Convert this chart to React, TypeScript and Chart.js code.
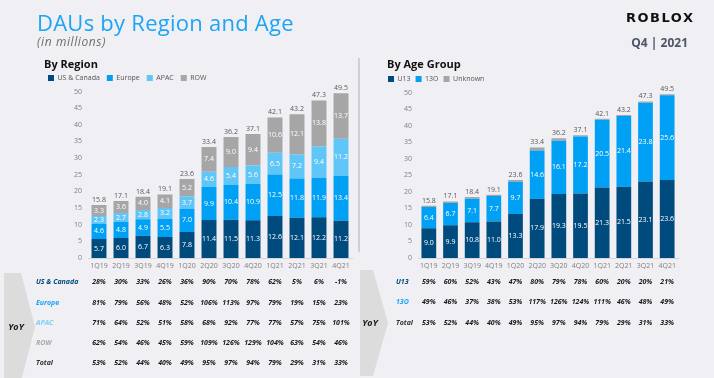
import React, { useEffect, useRef } from "react";
import { Chart, registerables } from "chart.js";
Chart.register(...registerables);

const quarters = ["1Q19", "2Q19", "3Q19", "4Q19", "1Q20", "2Q20", "3Q20", "4Q20", "1Q21", "2Q21", "3Q21", "4Q21"];

const usCanada = [5.7, 6.0, 6.7, 6.3, 7.8, 11.4, 11.5, 11.3, 12.6, 12.1, 12.2, 11.2];
const europe = [4.6, 4.8, 4.9, 5.5, 7.0, 9.9, 10.4, 10.9, 12.5, 11.8, 11.9, 13.4];
const apac = [2.3, 2.7, 2.8, 3.2, 3.7, 4.6, 5.4, 5.6, 6.5, 7.2, 9.4, 11.2];
const restOfWorld = [3.3, 3.6, 4.0, 4.1, 5.2, 7.4, 9.0, 9.4, 10.6, 12.1, 13.8, 13.7];
const regionTotals = [15.8, 17.1, 18.4, 19.1, 23.6, 33.4, 36.2, 37.1, 42.1, 43.2, 47.3, 49.5];

const under13 = [9.0, 9.9, 10.8, 11.0, 13.3, 17.9, 19.3, 19.5, 21.3, 21.5, 23.1, 23.6];
const over13 = [6.4, 6.7, 7.1, 7.7, 9.7, 14.6, 16.1, 17.2, 20.5, 21.4, 23.8, 25.6];
const unknownAge = [0.4, 0.5, 0.5, 0.4, 0.6, 0.9, 0.8, 0.4, 0.3, 0.3, 0.4, 0.3];
const ageTotals = [15.8, 17.1, 18.4, 19.1, 23.6, 33.4, 36.2, 37.1, 42.1, 43.2, 47.3, 49.5];

const yoyUsCanada = ["28%", "30%", "33%", "26%", "36%", "90%", "70%", "78%", "62%", "5%", "6%", "-1%"];
const yoyEurope = ["81%", "79%", "56%", "48%", "52%", "106%", "113%", "97%", "79%", "19%", "15%", "23%"];
const yoyApac = ["71%", "64%", "52%", "51%", "58%", "68%", "92%", "77%", "77%", "57%", "75%", "101%"];
const yoyRow = ["62%", "54%", "46%", "45%", "59%", "109%", "126%", "129%", "104%", "63%", "54%", "46%"];
const yoyRegionTotal = ["53%", "52%", "44%", "40%", "49%", "95%", "97%", "94%", "79%", "29%", "31%", "33%"];

const yoyUnder13 = ["59%", "60%", "52%", "43%", "47%", "80%", "79%", "78%", "60%", "20%", "20%", "21%"];
const yoyOver13 = ["49%", "46%", "37%", "38%", "53%", "117%", "126%", "124%", "111%", "46%", "48%", "49%"];
const yoyAgeTotal = ["53%", "52%", "44%", "40%", "49%", "95%", "97%", "94%", "79%", "29%", "31%", "33%"];

const FONT = "'Open Sans', 'Noto Sans', sans-serif";
const NAVY = "#004b7d";
const BLUE = "#00a0f5";
const LIGHT = "#5fc6f7";
const GRAY = "#a6a6a6";
const BG = "#efeff4";

function barLabelPlugin(labelled: number[], totals: number[]) {
  return {
    id: "barLabels",
    afterDatasetsDraw(chart: any) {
      const ctx = chart.ctx;
      ctx.save();
      ctx.font = `7px ${FONT}`;
      ctx.textAlign = "center";
      ctx.textBaseline = "middle";
      labelled.forEach((di) => {
        const meta = chart.getDatasetMeta(di);
        const data = chart.data.datasets[di].data;
        meta.data.forEach((el: any, i: number) => {
          const p = el.getProps(["x", "y", "base"], true);
          ctx.fillStyle = "#ffffff";
          ctx.fillText(Number(data[i]).toFixed(1), p.x, (p.y + p.base) / 2);
        });
      });
      const top = chart.getDatasetMeta(chart.data.datasets.length - 1);
      top.data.forEach((el: any, i: number) => {
        ctx.fillStyle = "#595959";
        ctx.fillText(totals[i].toFixed(1), el.x, el.y - 5);
      });
      ctx.restore();
    },
  };
}

type Row = { label: string; color: string; y: number; values: string[] };

function tablePlugin(rows: Row[], labelX: number, arrow: number[][], yoyPos: number[]) {
  return {
    id: "yoyTable",
    afterDraw(chart: any) {
      const ctx = chart.ctx;
      const xs = chart.scales.x;
      ctx.save();
      ctx.fillStyle = "#dcdcdc";
      ctx.beginPath();
      arrow.forEach(([x, y], i) => (i ? ctx.lineTo(x, y) : ctx.moveTo(x, y)));
      ctx.closePath();
      ctx.fill();
      ctx.font = `italic 700 9px ${FONT}`;
      ctx.fillStyle = "#1a1a1a";
      ctx.textAlign = "center";
      ctx.textBaseline = "middle";
      ctx.fillText("YoY", yoyPos[0], yoyPos[1]);
      rows.forEach((r) => {
        ctx.font = `italic 700 7px ${FONT}`;
        ctx.textAlign = "left";
        ctx.fillStyle = r.color;
        ctx.fillText(r.label, labelX, r.y);
        ctx.fillStyle = "#1a1a1a";
        ctx.textAlign = "center";
        r.values.forEach((v, i) => ctx.fillText(v, xs.getPixelForValue(i), r.y));
      });
      ctx.restore();
    },
  };
}

function baseOptions(padTop: number, padLeft: number, padRight: number, legendPad: number, legendMax: number, yWidth: number) {
  const tickFont = { size: 7, family: FONT };
  return {
    responsive: false,
    animation: false as const,
    layout: { padding: { top: padTop, left: padLeft, right: padRight, bottom: 100 } },
    datasets: { bar: { barPercentage: 0.68, categoryPercentage: 1 } },
    plugins: {
      legend: {
        display: true,
        position: "top" as const,
        align: "start" as const,
        maxHeight: legendMax,
        labels: { boxWidth: 6, boxHeight: 6, padding: legendPad, font: { size: 7, family: FONT }, color: "#555555" },
      },
      title: { display: false },
      tooltip: { enabled: false },
    },
    scales: {
      x: {
        stacked: true,
        grid: { display: false, drawTicks: false },
        border: { display: true, color: "#d6d6d6" },
        ticks: { font: tickFont, color: "#808080", padding: 4, maxRotation: 0, autoSkip: false },
        afterFit: (s: any) => {
          s.height = 20;
        },
      },
      y: {
        stacked: true,
        min: 0,
        max: 50,
        ticks: { stepSize: 5, font: tickFont, color: "#808080", padding: 6 },
        grid: { display: false, drawTicks: false },
        border: { display: false },
        afterFit: (s: any) => {
          s.width = yWidth;
        },
      },
    },
  };
}

export default function App() {
  const leftRef = useRef<HTMLCanvasElement>(null);
  const rightRef = useRef<HTMLCanvasElement>(null);

  useEffect(() => {
    const left = new Chart(leftRef.current as HTMLCanvasElement, {
      type: "bar",
      data: {
        labels: quarters,
        datasets: [
          { label: "US & Canada", data: usCanada, backgroundColor: NAVY },
          { label: "Europe", data: europe, backgroundColor: BLUE },
          { label: "APAC", data: apac, backgroundColor: LIGHT },
          { label: "ROW", data: restOfWorld, backgroundColor: GRAY },
        ],
      },
      options: baseOptions(67.5, 41, 8, 7, 25.5, 47) as any,
      plugins: [
        barLabelPlugin([0, 1, 2, 3], regionTotals),
        tablePlugin(
          [
            { label: "US & Canada", color: NAVY, y: 282, values: yoyUsCanada },
            { label: "Europe", color: "#1ea3f5", y: 303, values: yoyEurope },
            { label: "APAC", color: "#7dd0f7", y: 323, values: yoyApac },
            { label: "ROW", color: "#a9a9a9", y: 343, values: yoyRow },
            { label: "Total", color: "#333333", y: 363, values: yoyRegionTotal },
          ],
          36,
          [[4, 273], [21, 273], [35, 327], [21, 381], [4, 381]],
          [16, 327]
        ),
      ],
    });
    const right = new Chart(rightRef.current as HTMLCanvasElement, {
      type: "bar",
      data: {
        labels: quarters,
        datasets: [
          { label: "U13", data: under13, backgroundColor: NAVY },
          { label: "13O", data: over13, backgroundColor: BLUE },
          { label: "Unknown", data: unknownAge, backgroundColor: GRAY },
        ],
      },
      options: baseOptions(70.5, 23, 36, 5, 22.5, 35) as any,
      plugins: [
        barLabelPlugin([0, 1], ageTotals),
        tablePlugin(
          [
            { label: "U13", color: NAVY, y: 282, values: yoyUnder13 },
            { label: "13O", color: "#1ea3f5", y: 302, values: yoyOver13 },
            { label: "Total", color: "#333333", y: 323, values: yoyAgeTotal },
          ],
          36,
          [[0, 270], [13, 270], [28, 323], [13, 376], [0, 376]],
          [10, 323]
        ),
      ],
    });
    return () => {
      left.destroy();
      right.destroy();
    };
  }, []);

  const txt = (o: React.CSSProperties): React.CSSProperties => ({
    position: "absolute",
    whiteSpace: "nowrap",
    lineHeight: 1,
    fontFamily: FONT,
    margin: 0,
    ...o,
  });

  return (
    <div style={{ position: "absolute", left: 0, top: 0, width: 714, height: 378, background: BG, overflow: "hidden" }}>
      <canvas ref={leftRef} width={360} height={378} style={{ position: "absolute", left: 0, top: 0, width: 360, height: 378 }} />
      <canvas ref={rightRef} width={354} height={378} style={{ position: "absolute", left: 360, top: 0, width: 354, height: 378 }} />
      <div style={txt({ left: 37, top: 11, fontSize: 22, color: "#1ca4f6", letterSpacing: 0.25 })}>DAUs by Region and Age</div>
      <div style={txt({ left: 37, top: 36.3, fontSize: 12, color: "#6e6e6e", fontStyle: "italic", letterSpacing: 0.6 })}>(in millions)</div>
      <div style={txt({ left: 44, top: 58, fontSize: 11, fontWeight: 700, color: "#111111" })}>By Region</div>
      <div style={txt({ left: 387, top: 58, fontSize: 11, fontWeight: 700, color: "#111111" })}>By Age Group</div>
      <div style={txt({ left: 626, top: 10.5, fontSize: 13, fontWeight: 900, color: "#111111", fontFamily: "'DejaVu Sans', sans-serif", letterSpacing: 1.5 })}>ROBLOX</div>
      <div style={txt({ right: 26, top: 37.3, fontSize: 12, fontWeight: 700, color: "#4d5566" })}>Q4 | 2021</div>
      <div style={{ position: "absolute", left: 358, top: 58, width: 2, height: 194, background: "#cfcfd4" }} />
    </div>
  );
}
